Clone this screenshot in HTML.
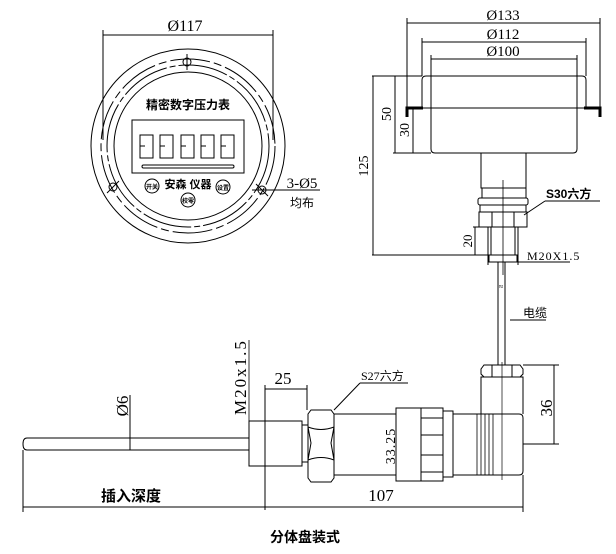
<!DOCTYPE html>
<html><head><meta charset="utf-8"><style>
html,body{margin:0;padding:0;background:#fff;}
svg{display:block;}
text{font-family:"Liberation Serif","Noto Serif CJK SC",serif;fill:#000;}
.c{font-family:"Liberation Sans","Noto Sans CJK SC",sans-serif;font-weight:bold;}
.n{font-family:"Liberation Sans","Noto Sans CJK SC",sans-serif;font-weight:normal;}
</style></head><body>
<svg width="616" height="554" viewBox="0 0 616 554" xmlns="http://www.w3.org/2000/svg" fill="none" stroke="#000" stroke-width="1">
<!-- FRONT VIEW -->
<line x1="103" y1="35" x2="273" y2="35"/>
<line x1="103" y1="30" x2="103" y2="140"/>
<line x1="273" y1="30" x2="273" y2="140"/>
<text x="185" y="31" font-size="16" text-anchor="middle" stroke="none">Ø117</text>
<circle cx="188" cy="146" r="97"/>
<circle cx="188" cy="146" r="87" stroke-dasharray="40 4 8 4"/>
<circle cx="188" cy="146" r="81" stroke-dasharray="50 3 6 3"/>
<circle cx="188" cy="146" r="74"/>
<circle cx="187" cy="62" r="4"/>
<line x1="187" y1="54" x2="187" y2="70"/>
<circle cx="113" cy="187" r="4"/>
<line x1="107" y1="193" x2="119" y2="181"/>
<circle cx="262" cy="190" r="4"/>
<line x1="256" y1="184" x2="268" y2="196"/>
<line x1="252" y1="190" x2="320" y2="190"/>
<text x="302" y="188" font-size="15" text-anchor="middle" stroke="none">3-Ø5</text>
<text x="302" y="207" class="n" font-size="12" text-anchor="middle" stroke="none">均布</text>
<text x="188" y="109" class="c" font-size="12" text-anchor="middle" stroke="none">精密数字压力表</text>
<rect x="132" y="120" width="112" height="53"/>
<g stroke-width="1">
<rect x="140" y="135" width="13" height="23"/><line x1="140" y1="146" x2="145" y2="146"/>
<rect x="160" y="135" width="13" height="23"/><line x1="160" y1="146" x2="165" y2="146"/>
<rect x="181" y="135" width="13" height="23"/><line x1="181" y1="146" x2="186" y2="146"/>
<rect x="201" y="135" width="13" height="23"/><line x1="201" y1="146" x2="206" y2="146"/>
<rect x="221" y="135" width="13" height="23"/><line x1="221" y1="146" x2="226" y2="146"/>
</g>
<rect x="142" y="165" width="92" height="3" rx="1.5"/>
<text x="188" y="188" class="c" font-size="11" text-anchor="middle" stroke="none">安森 仪器</text>
<circle cx="152" cy="186" r="7"/><text x="152" y="189" class="c" font-size="6" text-anchor="middle" stroke="none">开关</text>
<circle cx="223" cy="187" r="7"/><text x="223" y="190" class="c" font-size="6" text-anchor="middle" stroke="none">设置</text>
<circle cx="188" cy="200" r="7"/><text x="188" y="203" class="c" font-size="6" text-anchor="middle" stroke="none">校零</text>

<!-- SIDE VIEW -->
<line x1="407" y1="23" x2="600" y2="23"/>
<line x1="407" y1="18" x2="407" y2="108"/><line x1="600" y1="18" x2="600" y2="108"/>
<text x="503" y="20" font-size="15" text-anchor="middle" stroke="none">Ø133</text>
<line x1="422" y1="42" x2="586" y2="42"/>
<line x1="422" y1="38" x2="422" y2="76"/><line x1="586" y1="38" x2="586" y2="76"/>
<text x="503" y="39" font-size="15" text-anchor="middle" stroke="none">Ø112</text>
<line x1="431" y1="59" x2="577" y2="59"/>
<line x1="431" y1="55" x2="431" y2="108"/><line x1="577" y1="55" x2="577" y2="108"/>
<text x="503" y="56" font-size="15" text-anchor="middle" stroke="none">Ø100</text>
<path d="M422 108 V80 Q422 76 426 76 H582 Q586 76 586 80 V108"/>
<line x1="407" y1="108" x2="600" y2="108"/>
<path d="M407 117 V108 H423" stroke-width="3"/>
<path d="M600 117 V108 H584" stroke-width="3"/>
<path d="M431 108 V149 Q431 153 435 153 H573 Q577 153 577 149 V108"/>
<rect x="481" y="153" width="45" height="35"/>
<rect x="482" y="188" width="44" height="10"/>
<rect x="478" y="198" width="50" height="7" rx="2"/>
<rect x="480" y="205" width="46" height="7"/>
<path d="M479 212 H527 V227 H479 Z M492 212 V227 M514 212 V227"/>
<rect x="488" y="227" width="30" height="28"/>
<line x1="491" y1="227" x2="491" y2="255"/><line x1="515" y1="227" x2="515" y2="255"/>
<rect x="489" y="255" width="28" height="7"/>
<line x1="503" y1="180" x2="503" y2="275" stroke-width="0.8"/>
<line x1="498" y1="262" x2="498" y2="365"/><line x1="505" y1="262" x2="505" y2="365"/>
<text x="501" y="289" font-size="8" text-anchor="middle" stroke="none">≈</text>
<line x1="372" y1="76" x2="422" y2="76"/>
<line x1="372" y1="255" x2="488" y2="255"/>
<line x1="373" y1="76" x2="373" y2="255"/>
<text transform="translate(368 166) rotate(-90)" font-size="14" text-anchor="middle" stroke="none">125</text>
<line x1="395" y1="76" x2="395" y2="153"/>
<line x1="393" y1="153" x2="431" y2="153"/>
<text transform="translate(391 114) rotate(-90)" font-size="14" text-anchor="middle" stroke="none">50</text>
<line x1="413" y1="108" x2="413" y2="153"/>
<text transform="translate(409 130) rotate(-90)" font-size="14" text-anchor="middle" stroke="none">30</text>
<line x1="475" y1="227" x2="475" y2="255"/>
<line x1="473" y1="227" x2="488" y2="227"/>
<text transform="translate(472 241) rotate(-90)" font-size="13" text-anchor="middle" stroke="none">20</text>
<line x1="488" y1="262" x2="570" y2="262"/>
<line x1="488" y1="255" x2="488" y2="265"/><line x1="518" y1="255" x2="518" y2="265"/>
<text x="527" y="260" font-size="12" stroke="none" letter-spacing="1">M20X1.5</text>
<line x1="524" y1="215" x2="545" y2="201"/>
<line x1="545" y1="201" x2="600" y2="201"/>
<text x="546" y="198" class="c" font-size="12" stroke="none">S30六方</text>
<line x1="510" y1="320" x2="546" y2="320"/>
<text x="523" y="317" class="n" font-size="12" stroke="none">电缆</text>

<!-- BOTTOM ASSEMBLY -->
<path d="M249 438 H27 Q23 438 23 444 Q23 450 27 450 H249"/>
<rect x="249" y="421" width="53" height="45"/>
<line x1="265" y1="421" x2="265" y2="510"/>
<line x1="249" y1="340" x2="249" y2="421" stroke-width="0.8"/>
<text transform="translate(246 377) rotate(-90)" font-size="17" letter-spacing="2" text-anchor="middle" stroke="none">M20x1.5</text>
<line x1="265" y1="389" x2="307" y2="389"/>
<line x1="307" y1="385" x2="307" y2="410"/><line x1="265" y1="385" x2="265" y2="421"/>
<text x="283" y="384" font-size="17" text-anchor="middle" stroke="none">25</text>
<line x1="302" y1="425" x2="308" y2="425"/><line x1="302" y1="462" x2="308" y2="462"/>
<path d="M311 410 H331 L334 414 V478 L331 482 H311 L308 478 V414 Z"/>
<path d="M308 427 Q321 432 334 427 M308 460 Q321 455 334 460"/>
<path d="M308 427 L311 443 L308 460 M334 427 L331 443 L334 460"/>
<rect x="334" y="414" width="62" height="61"/>
<rect x="396" y="408" width="25" height="73"/>
<rect x="421" y="408" width="22" height="73"/>
<line x1="421" y1="418" x2="443" y2="418"/><line x1="421" y1="435" x2="443" y2="435"/>
<line x1="421" y1="455" x2="443" y2="455"/><line x1="421" y1="472" x2="443" y2="472"/>
<rect x="443" y="411" width="10" height="66"/>
<path d="M453 414 H519 Q523 414 523 418 V471 Q523 475 519 475 H453"/>
<g stroke-width="0.8">
<line x1="477" y1="414" x2="477" y2="475"/><line x1="481" y1="414" x2="481" y2="475"/>
<line x1="485" y1="414" x2="485" y2="475"/><line x1="489" y1="414" x2="489" y2="475"/>
<line x1="493" y1="414" x2="493" y2="475"/>
</g>
<path d="M481 414 V377 H523 V414"/>
<path d="M484 365 H520 L523 369 V374 L520 377 H484 L481 374 V369 Z M492 365 V377 M512 365 V377"/>
<line x1="502" y1="362" x2="502" y2="480" stroke-width="0.7"/>
<line x1="523" y1="365" x2="559" y2="365"/>
<line x1="523" y1="444" x2="559" y2="444"/>
<line x1="554" y1="365" x2="554" y2="444"/>
<text transform="translate(552 408) rotate(-90)" font-size="17" text-anchor="middle" stroke="none">36</text>
<line x1="334" y1="410" x2="360" y2="383"/>
<line x1="360" y1="383" x2="408" y2="383"/>
<text x="361" y="380" font-size="12" stroke="none">S27<tspan class="n">六方</tspan></text>
<text transform="translate(395 446) rotate(-90)" font-size="14" letter-spacing="1" text-anchor="middle" stroke="none">33.25</text>
<line x1="130" y1="395" x2="130" y2="450"/>
<text transform="translate(128 406) rotate(-90)" font-size="17" text-anchor="middle" stroke="none">Ø6</text>
<line x1="23" y1="450" x2="23" y2="512"/>
<line x1="523" y1="475" x2="523" y2="512"/>
<line x1="23" y1="507" x2="265" y2="507"/>
<line x1="265" y1="507" x2="523" y2="507"/>
<text x="131" y="501" class="c" font-size="15" text-anchor="middle" stroke="none">插入深度</text>
<text x="381" y="501" font-size="17" text-anchor="middle" stroke="none">107</text>
<text x="305" y="542" class="c" font-size="14" text-anchor="middle" stroke="none">分体盘装式</text>
</svg>
</body></html>
